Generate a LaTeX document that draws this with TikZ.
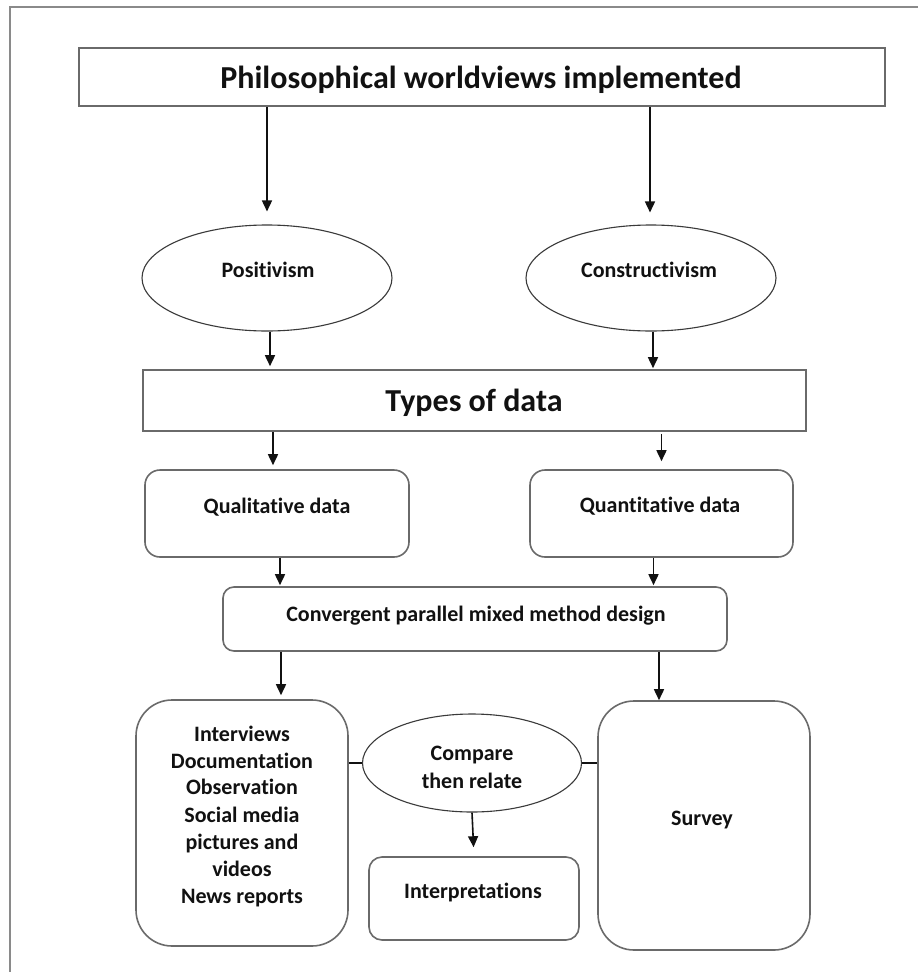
\documentclass[tikz,border=0pt]{standalone}
\usepackage{fontspec}
\setmainfont{Carlito}[Ligatures=CommonOff]
\usetikzlibrary{arrows.meta,shapes.geometric}

\definecolor{framegray}{HTML}{8A8A8A}
\definecolor{boxgray}{HTML}{6A6A6A}
\definecolor{ringgray}{HTML}{3A3A3A}
\definecolor{inkblack}{HTML}{111111}

\begin{document}
\begin{tikzpicture}[x=1pt,y=-1pt,
  shapebox/.style={draw=boxgray, line width=1.6pt, rectangle, inner sep=0pt},
  roundbox/.style={shapebox, rounded corners=#1},
  ring/.style={draw=ringgray, line width=1.1pt, ellipse, inner sep=0pt},
  arr/.style={draw=inkblack, line width=1.6pt, -{Triangle[length=11pt,width=10pt]}},
  link/.style={draw=inkblack, line width=1.6pt},
  bigtxt/.style={font=\bfseries\fontsize{32}{38}\selectfont, text=inkblack, inner sep=0pt, anchor=base},
  txt/.style={font=\bfseries\fontsize{22}{27}\selectfont, text=inkblack, inner sep=0pt, anchor=base},
  listtxt/.style={font=\bfseries\fontsize{22}{27}\selectfont, text=inkblack, inner sep=0pt, align=center}
]
% page area and outer frame (only its top and left sides fall on the page)
\path[use as bounding box, clip] (0,0) rectangle (918,972);
\fill[white] (0,0) rectangle (918,972);
\draw[framegray, line width=2pt] (10,7) rectangle (940,1000);

% shapes
\node[shapebox, minimum width=806pt, minimum height=58pt] (top) at (482,77) {};
\node[ring, minimum width=250pt, minimum height=106pt] (pos) at (267,278) {};
\node[ring, minimum width=250pt, minimum height=106pt] (con) at (651,278) {};
\node[shapebox, minimum width=663pt, minimum height=61pt] (types) at (474.5,400.5) {};
\node[roundbox=15pt, minimum width=264pt, minimum height=87pt] (qual) at (277,513.5) {};
\node[roundbox=15pt, minimum width=263pt, minimum height=87pt] (quant) at (661.5,513.5) {};
\node[roundbox=11pt, minimum width=504pt, minimum height=64pt] (conv) at (475,619) {};
\node[roundbox=36pt, minimum width=212pt, minimum height=246pt] (methods) at (242,823) {};
\node[ring, minimum width=219pt, minimum height=98pt] (cmp) at (472,763) {};
\node[roundbox=13pt, minimum width=210pt, minimum height=83pt] (interp) at (474,898.5) {};
\node[roundbox=36pt, minimum width=212pt, minimum height=249pt] (survey) at (704,825.5) {};

% texts
\node[bigtxt] (toptext) at (481,88) {Philosophical worldviews implemented};
\node[txt] (postext) at (268,277) {Positivism};
\node[txt] (context) at (649,277) {Constructivism};
\node[bigtxt] (typestext) at (474,411) {Types of data};
\node[txt] (qualtext) at (277,513) {Qualitative data};
\node[txt] (quanttext) at (660,512) {Quantitative data};
\node[txt] (convtext) at (476,621) {Convergent parallel mixed method design};
\node[listtxt] (methodstext) at (242,816) {Interviews\\Documentation\\Observation\\Social media\\pictures and\\videos\\News reports};
\node[listtxt, font=\bfseries\fontsize{22}{28}\selectfont] (cmptext) at (472,767) {Compare\\then relate};
\node[txt] (interptext) at (473,898) {Interpretations};
\node[txt] (surveytext) at (702,825) {Survey};

% connectors
\draw[arr, shorten >=13pt] (top.south -| pos.north) -- (pos.north);
\draw[arr, shorten >=12pt] ([xshift=-1pt]top.south -| con.north) -- ([xshift=-1pt]con.north);
\draw[arr, shorten >=3pt] ([xshift=3pt]pos.south) -- ([xshift=3pt]pos.south |- types.north);
\draw[arr, shorten >=1pt] ([xshift=2pt]con.south) -- ([xshift=2pt]con.south |- types.north);
\draw[arr, shorten >=4pt] ([xshift=-4pt]types.south -| qual.north) -- ([xshift=-4pt]qual.north);
\draw[arr, shorten >=8pt] ([yshift=-2pt]types.south -| quant.north) -- (quant.north);
\draw[arr, shorten >=1pt] ([xshift=3pt]qual.south) -- ([xshift=3pt]qual.south |- conv.north);
\draw[arr, shorten >=1pt] ([xshift=-8pt]quant.south) -- ([xshift=-8pt]quant.south |- conv.north);
\draw[arr, shorten >=4pt] (conv.south -| 281,0) -- (methods.north -| 281,0);
\draw[arr] (conv.south -| 659,0) -- (survey.north -| 659,0);
\draw[arr, shorten >=9pt] (cmp.south) -- (interp.north);
\draw[link] (cmp.west -| methods.east) -- (cmp.west);
\draw[link] (cmp.east) -- (cmp.east -| survey.west);
\end{tikzpicture}
\end{document}
